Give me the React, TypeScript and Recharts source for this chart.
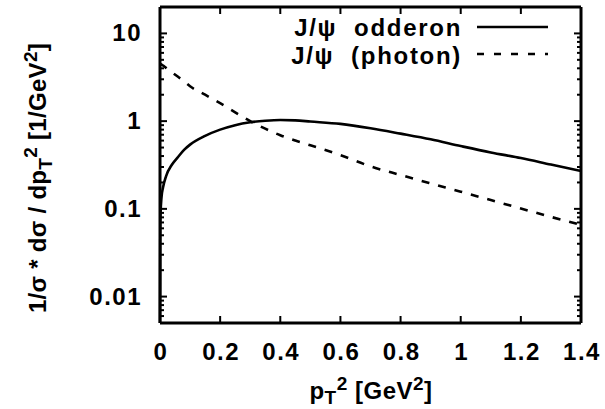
import React from 'react';
import { LineChart, Line, XAxis, YAxis, Legend, Customized } from 'recharts';

// p_T^2 grid and the two normalised distributions
const pt2 = [0, 0.001, 0.002, 0.005, 0.01, 0.02, 0.04, 0.06, 0.08, 0.1, 0.15, 0.2, 0.25, 0.3, 0.35, 0.4, 0.45, 0.5, 0.6, 0.7, 0.8, 0.9, 1.0, 1.1, 1.2, 1.3, 1.4];
const odderon = [0.005, 0.06, 0.09, 0.135, 0.175, 0.235, 0.32, 0.39, 0.47, 0.54, 0.68, 0.8, 0.9, 0.97, 1.01, 1.03, 1.02, 0.99, 0.93, 0.83, 0.72, 0.62, 0.52, 0.44, 0.38, 0.32, 0.27];
const photon = [4.5, 4.49, 4.47, 4.42, 4.3, 4.05, 3.6, 3.2, 2.85, 2.5, 2.0, 1.6, 1.26, 1.0, 0.82, 0.69, 0.6, 0.53, 0.41, 0.305, 0.243, 0.195, 0.157, 0.126, 0.101, 0.081, 0.066];

const xTicks = [0, 0.2, 0.4, 0.6, 0.8, 1, 1.2, 1.4];
const xLabels = ['0', '0.2', '0.4', '0.6', '0.8', '1', '1.2', '1.4'];
const yTicks = [
  0.005, 0.006, 0.007, 0.008, 0.009,
  0.01, 0.02, 0.03, 0.04, 0.05, 0.06, 0.07, 0.08, 0.09,
  0.1, 0.2, 0.3, 0.4, 0.5, 0.6, 0.7, 0.8, 0.9,
  1, 2, 3, 4, 5, 6, 7, 8, 9,
  10, 20,
];
const yMajor = [0.01, 0.1, 1, 10];
const yLabels = ['0.01', '0.1', '1', '10'];

const data = pt2.map((x, i) => ({ x, odderon: odderon[i], photon: photon[i] }));

const FONT = '"Liberation Sans", Arial, sans-serif';
const FS = 24;
const LS = 1.5;

const isMajor = (v: number) => yMajor.some((m) => Math.abs(m - v) < 1e-9);

const LeftTick = (props: any) => {
  const { x, y, payload } = props;
  const v = payload.value;
  const major = isMajor(v);
  const idx = yMajor.findIndex((m) => Math.abs(m - v) < 1e-9);
  return (
    <g>
      <line x1={x} y1={y} x2={x + (major ? 7 : 4)} y2={y} stroke="#000" strokeWidth={2} />
      {major && (
        <text x={x - 18} y={y} dy={8} textAnchor="end" fontFamily={FONT} fontWeight="bold" fontSize={FS} letterSpacing={LS} fill="#000">
          {yLabels[idx]}
        </text>
      )}
    </g>
  );
};

const RightTick = (props: any) => {
  const { x, y, payload } = props;
  const major = isMajor(payload.value);
  return <line x1={x} y1={y} x2={x - (major ? 7 : 4)} y2={y} stroke="#000" strokeWidth={2} />;
};

const BottomTick = (props: any) => {
  const { x, y, payload, index } = props;
  return (
    <g>
      <line x1={x} y1={y} x2={x} y2={y - 7} stroke="#000" strokeWidth={2} />
      <text x={x + 1} y={y + 37} textAnchor="middle" fontFamily={FONT} fontWeight="bold" fontSize={FS} letterSpacing={LS} fill="#000">
        {xLabels[index] ?? String(payload.value)}
      </text>
    </g>
  );
};

const TopTick = (props: any) => {
  const { x, y } = props;
  return <line x1={x} y1={y} x2={x} y2={y + 7} stroke="#000" strokeWidth={2} />;
};

const Titles = () => (
  <g fontFamily={FONT} fontWeight="bold" fill="#000">
    <text transform="translate(46,178) rotate(-90)" textAnchor="middle" fontSize={FS} letterSpacing={0.3}>
      1/σ * dσ / dp
      <tspan fontSize={19} dy={6}>T</tspan>
      <tspan fontSize={19} dy={-15}>2</tspan>
      <tspan dy={9}> [1/GeV</tspan>
      <tspan fontSize={19} dy={-9}>2</tspan>
      <tspan dy={9}>]</tspan>
    </text>
    <text x={371} y={399} textAnchor="middle" fontSize={FS} letterSpacing={0.5}>
      p
      <tspan fontSize={19} dy={5}>T</tspan>
      <tspan fontSize={19} dy={-14}>2</tspan>
      <tspan dy={9}> [GeV</tspan>
      <tspan fontSize={19} dy={-9}>2</tspan>
      <tspan dy={9}>]</tspan>
    </text>
  </g>
);

const KeyBox = () => (
  <svg width={605} height={75} style={{ display: 'block' }}>
    <g fontFamily={FONT} fontWeight="bold" fontSize={FS} letterSpacing={1.7} fill="#000">
      <text x={462} y={36} textAnchor="end" style={{ whiteSpace: 'pre' }}>J/ψ  odderon</text>
      <text x={462} y={64} textAnchor="end" style={{ whiteSpace: 'pre' }}>J/ψ  (photon)</text>
    </g>
    <line x1={477} y1={27} x2={548} y2={27} stroke="#000" strokeWidth={2.6} />
    <line x1={477} y1={54} x2={548} y2={54} stroke="#000" strokeWidth={2.6} strokeDasharray="7 10" />
  </svg>
);

export default function App() {
  return (
    <div style={{ position: 'absolute', left: 0, top: 0, width: 605, height: 409, background: '#fff' }}>
      <LineChart width={605} height={409} data={data} margin={{ top: 0, right: 0, bottom: 0, left: 0 }}>
        <XAxis
          xAxisId="b"
          dataKey="x"
          type="number"
          domain={[0, 1.4]}
          ticks={xTicks}
          interval={0}
          height={86}
          tickSize={0}
          tickMargin={0}
          axisLine={{ stroke: '#000', strokeWidth: 3 }}
          tick={<BottomTick />}
        />
        <XAxis
          xAxisId="t"
          orientation="top"
          dataKey="x"
          type="number"
          domain={[0, 1.4]}
          ticks={xTicks}
          interval={0}
          height={7}
          tickSize={0}
          tickMargin={0}
          axisLine={{ stroke: '#000', strokeWidth: 3 }}
          tick={<TopTick />}
        />
        <YAxis
          yAxisId="l"
          scale="log"
          type="number"
          domain={[0.005, 20]}
          allowDataOverflow
          ticks={yTicks}
          interval={0}
          width={160}
          tickSize={0}
          tickMargin={0}
          axisLine={{ stroke: '#000', strokeWidth: 3 }}
          tick={<LeftTick />}
        />
        <YAxis
          yAxisId="r"
          orientation="right"
          scale="log"
          type="number"
          domain={[0.005, 20]}
          allowDataOverflow
          ticks={yTicks}
          interval={0}
          width={24}
          tickSize={0}
          tickMargin={0}
          axisLine={{ stroke: '#000', strokeWidth: 3 }}
          tick={<RightTick />}
        />
        <Legend
          layout="vertical"
          align="center"
          verticalAlign="middle"
          wrapperStyle={{ left: 0, top: 0, width: 605 }}
          content={() => <KeyBox />}
        />
        <Line
          xAxisId="b"
          yAxisId="l"
          dataKey="odderon"
          type="monotone"
          stroke="#000"
          strokeWidth={2.6}
          dot={false}
          isAnimationActive={false}
        />
        <Line
          xAxisId="b"
          yAxisId="l"
          dataKey="photon"
          type="monotone"
          stroke="#000"
          strokeWidth={2.6}
          strokeDasharray="8 9"
          dot={false}
          isAnimationActive={false}
        />
        <Line
          xAxisId="t"
          yAxisId="r"
          dataKey="photon"
          stroke="none"
          dot={false}
          legendType="none"
          isAnimationActive={false}
        />
        <Customized component={<Titles />} />
      </LineChart>
    </div>
  );
}
